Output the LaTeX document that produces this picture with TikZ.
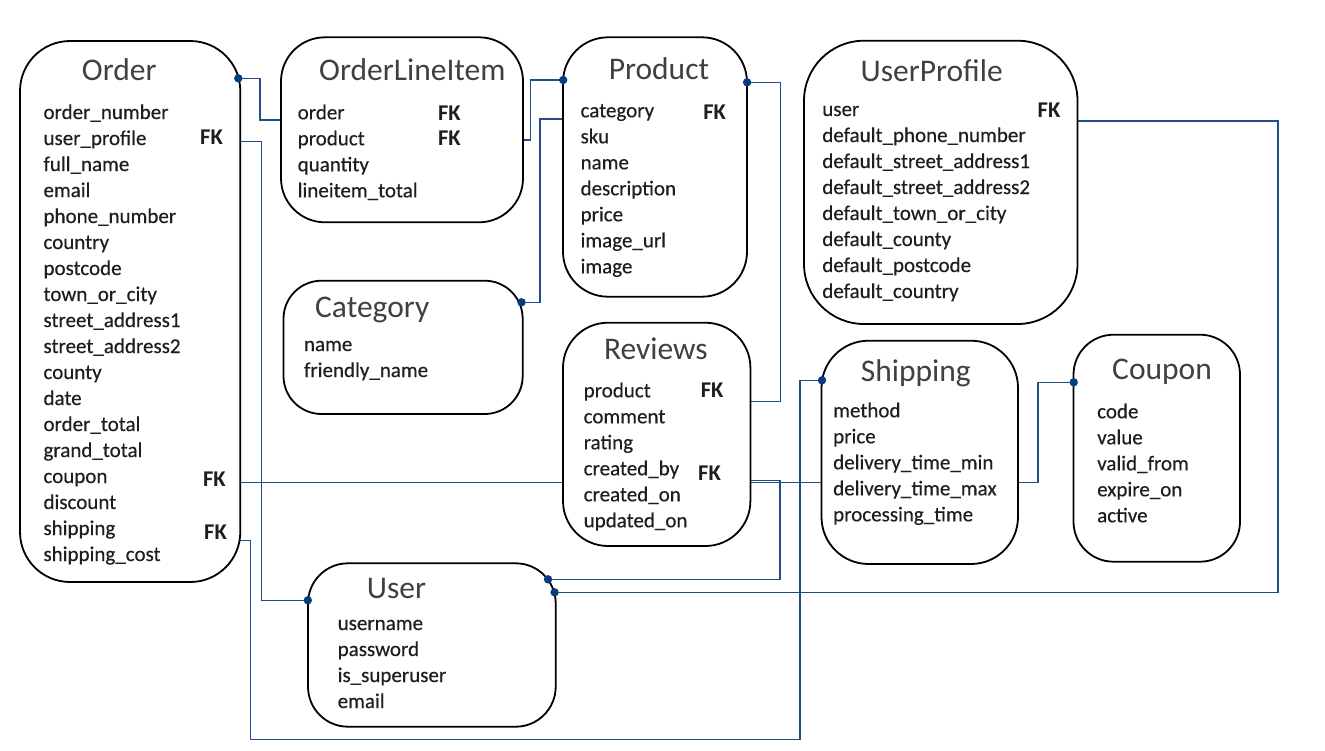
\documentclass[tikz,border=0pt]{standalone}
\usepackage{fontspec}
\setmainfont{Carlito}
\newfontfamily\fieldfont{Carlito}[FakeBold=0.35]
\usetikzlibrary{backgrounds}
\definecolor{linkblue}{RGB}{31,78,140}
\definecolor{dotblue}{RGB}{8,60,128}
\definecolor{titlegray}{RGB}{64,64,64}
\definecolor{fieldgray}{RGB}{30,30,30}
\tikzset{
  table/.style={draw=black, line width=1.8pt, fill=white, inner sep=0pt, outer sep=0pt},
  title/.style={anchor=base west, inner sep=0pt, text=titlegray, font=\fontsize{31.5}{34}\selectfont},
  fields/.style={anchor=base west, inner sep=0pt, align=left, text=fieldgray, font=\fieldfont\fontsize{21}{26}\selectfont},
  fk/.style={anchor=base west, inner sep=0pt, text=fieldgray, font=\bfseries\fontsize{22.5}{26}\selectfont},
  link/.style={draw=linkblue, line width=1.1pt},
}
\begin{document}
\begin{tikzpicture}[x=1pt, y=-1pt]
  %tikz  shop models
    \def\rr{4.2pt}
    \useasboundingbox (0,0) rectangle (1325,750);

    % tables
    \node[table, minimum width=220.3pt, minimum height=541pt, rounded corners=50pt] (order) at (130.15,311.5) {};
    \node[table, minimum width=242pt, minimum height=185pt, rounded corners=44pt] (oli) at (402,129.8) {};
    \node[table, minimum width=184pt, minimum height=259.4pt, rounded corners=45pt] (product) at (655,167) {};
    \node[table, minimum width=273.5pt, minimum height=283.3pt, rounded corners=60pt] (profile) at (940.75,182.35) {};
    \node[table, minimum width=239.2pt, minimum height=133.3pt, rounded corners=38pt] (category) at (403.1,347.35) {};
    \node[table, minimum width=187.4pt, minimum height=223.3pt, rounded corners=45pt] (reviews) at (656.7,434.35) {};
    \node[table, minimum width=196.5pt, minimum height=223.3pt, rounded corners=47pt] (shipping) at (919.75,452.35) {};
    \node[table, minimum width=166.5pt, minimum height=227pt, rounded corners=40pt] (coupon) at (1156.75,448.2) {};
    \node[table, minimum width=247.7pt, minimum height=163.4pt, rounded corners=40pt] (user) at (431.85,645) {};

    % titles
    \node[title] (order-title) at (81.7,80) {Order};
    \node[title] (oli-title) at (319,80.7) {OrderLineItem};
    \node[title] (product-title) at (608.6,79.3) {Product};
    \node[title] (profile-title) at (860.4,81.7) {UserProfile};
    \node[title] (category-title) at (315,317.7) {Category};
    \node[title] (reviews-title) at (603.8,359.3) {Reviews};
    \node[title] (shipping-title) at (860.7,381.7) {Shipping};
    \node[title] (coupon-title) at (1112,379.3) {Coupon};
    \node[title] (user-title) at (366.6,598.3) {User};

    % fields (placed by the baseline of the last line)
    \node[fields] (order-fields) at (43.3,561) {order\_number\\user\_profile\\full\_name\\email\\phone\_number\\country\\postcode\\town\_or\_city\\street\_address1\\street\_address2\\county\\date\\order\_total\\grand\_total\\coupon\\discount\\shipping\\shipping\_cost};
    \node[fields] (oli-fields) at (297.5,197.3) {order\\product\\quantity\\lineitem\_total};
    \node[fields] (product-fields) at (580.4,273.3) {category\\sku\\name\\description\\price\\image\_url\\image};
    \node[fields] (profile-fields) at (822.1,298) {user\\default\_phone\_number\\default\_street\_address1\\default\_street\_address2\\default\_town\_or\_city\\default\_county\\default\_postcode\\default\_country};
    \node[fields] (category-fields) at (303.8,377) {name\\friendly\_name};
    \node[fields] (reviews-fields) at (583.5,527.3) {product\\comment\\rating\\created\_by\\created\_on\\updated\_on};
    \node[fields] (shipping-fields) at (833,521.3) {method\\price\\delivery\_time\_min\\delivery\_time\_max\\processing\_time};
    \node[fields] (coupon-fields) at (1097,522.3) {code\\value\\valid\_from\\expire\_on\\active};
    \node[fields] (user-fields) at (337.5,708) {username\\password\\is\_superuser\\email};

    % foreign keys
    \node[fk] (order-fk1) at (200,144.3) {FK};
    \node[fk] (order-fk2) at (202.8,486) {FK};
    \node[fk] (order-fk3) at (204,539) {FK};
    \node[fk] (oli-fk1) at (437.9,120.7) {FK};
    \node[fk] (oli-fk2) at (437.9,145) {FK};
    \node[fk] (product-fk) at (703.2,119.3) {FK};
    \node[fk] (profile-fk) at (1037.5,117.7) {FK};
    \node[fk] (reviews-fk1) at (700.7,397.7) {FK};
    \node[fk] (reviews-fk2) at (698,480.7) {FK};

    % link ends
    \coordinate (order-dot) at (238.3,78.3);
    \coordinate (product-dot-l) at (563.2,80);
    \coordinate (product-dot-r) at (747.1,82.3);
    \coordinate (category-dot) at (521.5,302.3);
    \coordinate (user-dot-l) at (307.8,600.3);
    \coordinate (user-dot-r1) at (548,579.3);
    \coordinate (user-dot-r2) at (554.6,592.3);
    \coordinate (shipping-dot) at (822,380.3);
    \coordinate (coupon-dot) at (1073.7,382.3);

    \begin{scope}[on background layer]
    \draw[link] (order-dot) -- (260,78.3) |- (oli.west |- 0,120);
    \draw[link] (order.east |- 0,141.7) -- (261.5,141.7) |- (user-dot-l);
    \draw[link] (oli.east |- 0,140) -- (530.7,140) |- (product-dot-l);
    \draw[link] (category-dot) -- (540,302.3) |- (product.west |- 0,119);
    \draw[link] (product-dot-r) -- (780.5,82.3) |- (reviews.east |- 0,401.7);
    \draw[link] (profile.east |- 0,121) -- (1278,121) |- (user-dot-r2);
    \draw[link] (reviews.east |- 0,480.7) -- (780,480.7) |- (user-dot-r1);
    \draw[link] (order.east |- 0,482.3) -- (1038,482.3) |- (coupon-dot);
    \draw[link] (order.east |- 0,540.3) -- (250.7,540.3) |- (800,739.3) |- (shipping-dot);
    \end{scope}

    \fill[dotblue] (order-dot) circle (\rr);
    \fill[dotblue] (product-dot-l) circle (\rr);
    \fill[dotblue] (product-dot-r) circle (\rr);
    \fill[dotblue] (category-dot) circle (\rr);
    \fill[dotblue] (user-dot-l) circle (\rr);
    \fill[dotblue] (user-dot-r1) circle (\rr);
    \fill[dotblue] (user-dot-r2) circle (\rr);
    \fill[dotblue] (shipping-dot) circle (\rr);
    \fill[dotblue] (coupon-dot) circle (\rr);
\end{tikzpicture}
\end{document}
